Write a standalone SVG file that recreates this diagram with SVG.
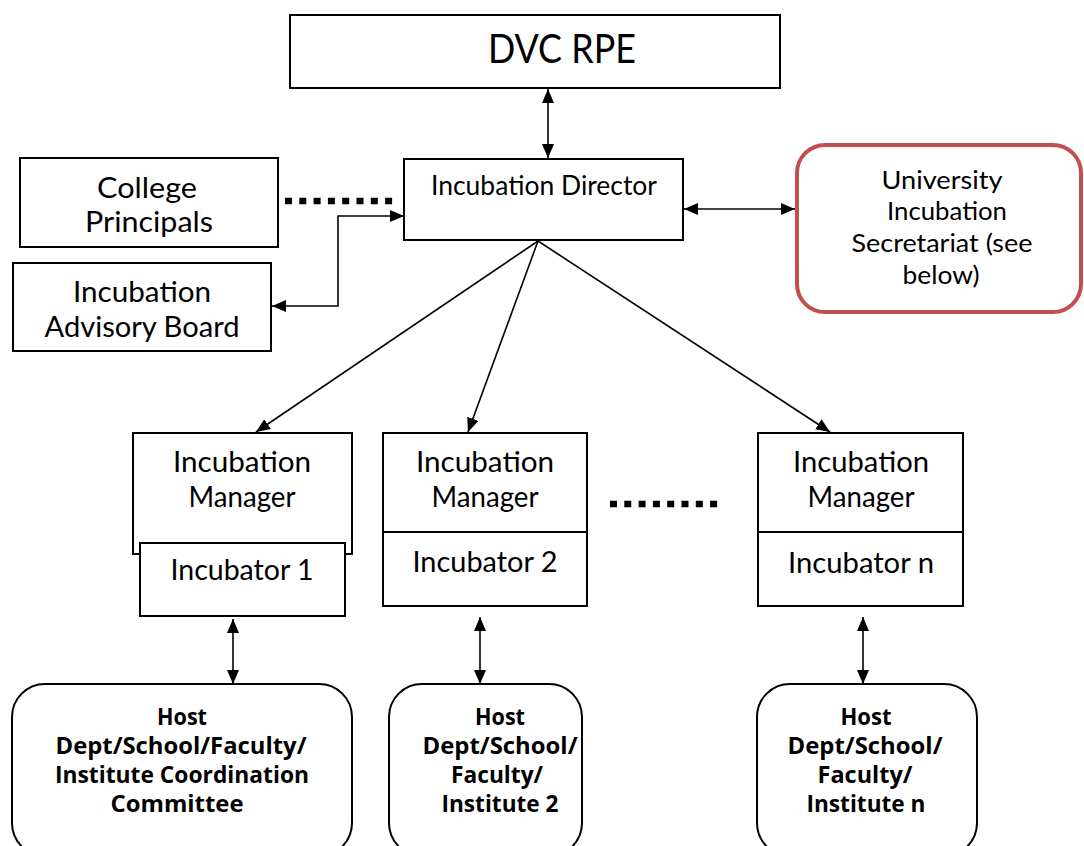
<svg xmlns="http://www.w3.org/2000/svg" width="1084" height="846" viewBox="0 0 1084 846">
<defs>
<style>
.box{fill:#fff;stroke:#000;stroke-width:2}
.host{fill:#fff;stroke:#000;stroke-width:2}
.sec{fill:#fff;stroke:#C0504D;stroke-width:4}
.t{font-family:Lato,"Open Sans","Liberation Sans",sans-serif;fill:#000;text-anchor:middle}
.b{font-family:"Open Sans",Lato,"Liberation Sans",sans-serif;font-weight:bold;fill:#000;text-anchor:middle;font-size:23px}
.c{stroke:#000;stroke-width:1.6;fill:none}
.dots{stroke:#000;stroke-width:6.5;stroke-dasharray:7 7.3;fill:none}
</style>
<marker id="ah" viewBox="0 0 14 12" markerWidth="14" markerHeight="12" refX="14" refY="6" orient="auto-start-reverse" markerUnits="userSpaceOnUse">
<path d="M0,0 L14,6 L0,12 z" fill="#000"/>
</marker>
</defs>
<rect width="1084" height="846" fill="#fff"/>

<g id="connectors">
<line class="c" x1="548" y1="89" x2="548" y2="158" marker-start="url(#ah)" marker-end="url(#ah)"/>
<line class="c" x1="684" y1="209" x2="795" y2="209" marker-start="url(#ah)" marker-end="url(#ah)"/>
<polyline class="c" points="404,216 338,216 338,306 272,306" marker-start="url(#ah)" marker-end="url(#ah)"/>
<line class="dots" x1="285" y1="201" x2="397" y2="201"/>
<line class="dots" x1="610" y1="504" x2="723" y2="504"/>
<line class="c" x1="538" y1="241" x2="256" y2="432" marker-end="url(#ah)"/>
<line class="c" x1="538" y1="241" x2="468" y2="432" marker-end="url(#ah)"/>
<line class="c" x1="538" y1="241" x2="830" y2="432" marker-end="url(#ah)"/>
<line class="c" x1="233" y1="619" x2="233" y2="684" marker-start="url(#ah)" marker-end="url(#ah)"/>
<line class="c" x1="480" y1="617" x2="480" y2="684" marker-start="url(#ah)" marker-end="url(#ah)"/>
<line class="c" x1="863" y1="617" x2="863" y2="684" marker-start="url(#ah)" marker-end="url(#ah)"/>
</g>

<g id="dvc">
<rect class="box" x="290" y="15" width="490" height="73"/>
<text class="t" x="562" y="63" font-size="40" textLength="148" lengthAdjust="spacingAndGlyphs">DVC RPE</text>
</g>

<g id="director">
<rect class="box" x="404" y="159" width="279" height="81"/>
<text class="t" x="544" y="195" font-size="26" textLength="226" lengthAdjust="spacingAndGlyphs">Incubation Director</text>
</g>

<g id="college">
<rect class="box" x="20" y="158" width="258" height="89"/>
<text class="t" x="147" y="198" font-size="28" textLength="100" lengthAdjust="spacingAndGlyphs">College</text>
<text class="t" x="149" y="232" font-size="28" textLength="128" lengthAdjust="spacingAndGlyphs">Principals</text>
</g>

<g id="advisory">
<rect class="box" x="13" y="263" width="258" height="88"/>
<text class="t" x="142" y="302" font-size="28" textLength="138" lengthAdjust="spacingAndGlyphs">Incubation</text>
<text class="t" x="142" y="337" font-size="28" textLength="195" lengthAdjust="spacingAndGlyphs">Advisory Board</text>
</g>

<g id="secretariat">
<rect class="sec" x="797" y="145" width="284" height="167" rx="28" ry="28"/>
<text class="t" x="942" y="189" font-size="25" textLength="121" lengthAdjust="spacingAndGlyphs">University</text>
<text class="t" x="947" y="220" font-size="25" textLength="120" lengthAdjust="spacingAndGlyphs">Incubation</text>
<text class="t" x="942" y="252" font-size="25" textLength="181" lengthAdjust="spacingAndGlyphs">Secretariat (see</text>
<text class="t" x="941" y="284" font-size="25" textLength="77" lengthAdjust="spacingAndGlyphs">below)</text>
</g>

<g id="manager1">
<rect class="box" x="133" y="433" width="219" height="121"/>
<text class="t" x="242" y="472" font-size="28" textLength="138" lengthAdjust="spacingAndGlyphs">Incubation</text>
<text class="t" x="242" y="507" font-size="28" textLength="107" lengthAdjust="spacingAndGlyphs">Manager</text>
<rect class="box" x="140" y="543" width="205" height="73"/>
<text class="t" x="242" y="580" font-size="28" textLength="143" lengthAdjust="spacingAndGlyphs">Incubator 1</text>
</g>

<g id="manager2">
<rect class="box" x="383" y="433" width="204" height="173"/>
<line class="box" x1="383" y1="532" x2="587" y2="532"/>
<text class="t" x="485" y="472" font-size="28" textLength="138" lengthAdjust="spacingAndGlyphs">Incubation</text>
<text class="t" x="485" y="507" font-size="28" textLength="107" lengthAdjust="spacingAndGlyphs">Manager</text>
<text class="t" x="485" y="572" font-size="28" textLength="145" lengthAdjust="spacingAndGlyphs">Incubator 2</text>
</g>

<g id="managern">
<rect class="box" x="758" y="433" width="205" height="173"/>
<line class="box" x1="758" y1="532" x2="963" y2="532"/>
<text class="t" x="861" y="472" font-size="28" textLength="136" lengthAdjust="spacingAndGlyphs">Incubation</text>
<text class="t" x="861" y="507" font-size="28" textLength="107" lengthAdjust="spacingAndGlyphs">Manager</text>
<text class="t" x="861" y="573" font-size="28" textLength="146" lengthAdjust="spacingAndGlyphs">Incubator n</text>
</g>

<g id="host1">
<rect class="host" x="12" y="684" width="340" height="172" rx="33" ry="33"/>
<text class="b" x="182" y="725" textLength="50" lengthAdjust="spacingAndGlyphs">Host</text>
<text class="b" x="181" y="754" textLength="251" lengthAdjust="spacingAndGlyphs">Dept/School/Faculty/</text>
<text class="b" x="182" y="783" textLength="254" lengthAdjust="spacingAndGlyphs">Institute Coordination</text>
<text class="b" x="177" y="812" textLength="133" lengthAdjust="spacingAndGlyphs">Committee</text>
</g>

<g id="host2">
<rect class="host" x="389" y="684" width="193" height="172" rx="33" ry="33"/>
<text class="b" x="500" y="725" textLength="50" lengthAdjust="spacingAndGlyphs">Host</text>
<text class="b" x="500" y="754" textLength="155" lengthAdjust="spacingAndGlyphs">Dept/School/</text>
<text class="b" x="497" y="783" textLength="92" lengthAdjust="spacingAndGlyphs">Faculty/</text>
<text class="b" x="500" y="812" textLength="117" lengthAdjust="spacingAndGlyphs">Institute 2</text>
</g>

<g id="hostn">
<rect class="host" x="757" y="684" width="220" height="172" rx="33" ry="33"/>
<text class="b" x="866" y="725" textLength="51" lengthAdjust="spacingAndGlyphs">Host</text>
<text class="b" x="865" y="754" textLength="155" lengthAdjust="spacingAndGlyphs">Dept/School/</text>
<text class="b" x="865" y="783" textLength="95" lengthAdjust="spacingAndGlyphs">Faculty/</text>
<text class="b" x="866" y="812" textLength="119" lengthAdjust="spacingAndGlyphs">Institute n</text>
</g>
</svg>
